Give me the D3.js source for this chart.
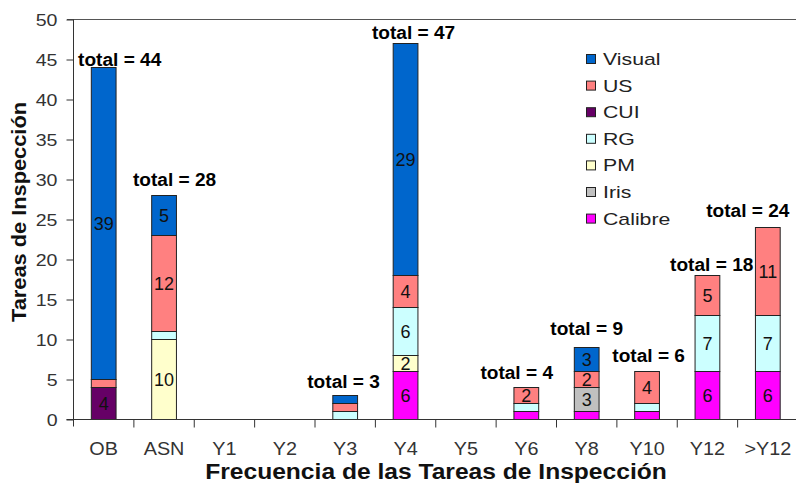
<!DOCTYPE html>
<html><head><meta charset="utf-8">
<script src="https://cdn.jsdelivr.net/npm/d3@7"></script>
<style>
html,body{margin:0;padding:0;background:#fff;}
text{font-family:"Liberation Sans",Arial,sans-serif;}
</style></head>
<body><svg id="c" width="796" height="483"></svg>
<script>
// ---- data ----
const categories = ["OB","ASN","Y1","Y2","Y3","Y4","Y5","Y6","Y8","Y10","Y12",">Y12"];
const calibre = [0,0,0,0,0,6,0,1,1,1,6,6];
const iris    = [0,0,0,0,0,0,0,0,3,0,0,0];
const pm      = [0,10,0,0,0,2,0,0,0,0,0,0];
const rg      = [0,1,0,0,1,6,0,1,0,1,7,7];
const cui     = [4,0,0,0,0,0,0,0,0,0,0,0];
const us      = [1,12,0,0,1,4,0,2,2,4,5,11];
const visual  = [39,5,0,0,1,29,0,0,3,0,0,0];
const yTicks  = [0,5,10,15,20,25,30,35,40,45,50];
const seriesNames = ["Calibre","Iris","PM","RG","CUI","US","Visual"]; // stack order, bottom up
const legendOrder = ["Visual","US","CUI","RG","PM","Iris","Calibre"];
// layout of the "total = n" annotations (pixel offsets from the bar centre / top)
const totalDx  = [16,10.5,0,0,-1.6,8,0,-9.6,0,1.6,4.3,-20];
const totalGap = [1.5,10,0,0,7.5,5,0,8.5,12.5,10,4.5,11];

const colors = {Visual:"#0066CC",US:"#FF8080",CUI:"#660066",RG:"#CCFFFF",PM:"#FFFFCC",Iris:"#C0C0C0",Calibre:"#FF00FF"};
const seriesData = {Calibre:calibre,Iris:iris,PM:pm,RG:rg,CUI:cui,US:us,Visual:visual};

const rows = categories.map((c,i)=>{const r={cat:c};seriesNames.forEach(s=>r[s]=seriesData[s][i]);return r;});
const totals = rows.map(r=>seriesNames.reduce((a,s)=>a+r[s],0));

const svg = d3.select("#c");
const x0 = 73.5, x1 = 798, yTop = 19.5, yBot = 419.5;
const x = d3.scaleBand().domain(categories).range([x0,x1]).paddingInner(0.59).paddingOuter(0.295);
const y = d3.scaleLinear().domain([0,50]).range([yBot,yTop]);

function stretch(sel,k){sel.each(function(){const w=this.getComputedTextLength();if(w>0){d3.select(this).attr("textLength",w*k).attr("lengthAdjust","spacingAndGlyphs");}});}

// top line at 50
svg.append("line").attr("x1",67).attr("x2",796).attr("y1",y(50)).attr("y2",y(50)).attr("stroke","#555").attr("stroke-width",1);

// stacked bars
const stack = d3.stack().keys(seriesNames)(rows);
const g = svg.append("g");
stack.forEach(layer=>{
  g.selectAll(null).data(layer.filter(d=>d[1]-d[0]>0)).enter().append("rect")
    .attr("x",d=>x(d.data.cat)).attr("width",x.bandwidth())
    .attr("y",d=>y(d[1])).attr("height",d=>y(d[0])-y(d[1]))
    .attr("fill",colors[layer.key]).attr("stroke","#222").attr("stroke-width",1);
});
// segment labels
stack.forEach(layer=>{
  g.selectAll(null).data(layer.filter(d=>d[1]-d[0]>=2)).enter().append("text")
    .attr("x",d=>x(d.data.cat)+x.bandwidth()/2).attr("y",d=>y((d[0]+d[1])/2)+6.5)
    .attr("text-anchor","middle").attr("font-size",18).attr("fill","#111")
    .text(d=>d[1]-d[0]);
});
// total labels
const tl = svg.selectAll(".tot").data(rows.filter((r,i)=>totals[i]>0)).enter().append("text")
  .attr("x",r=>{const i=categories.indexOf(r.cat);return x(r.cat)+x.bandwidth()/2+totalDx[i];})
  .attr("y",r=>{const i=categories.indexOf(r.cat);return y(totals[i])-totalGap[i];})
  .attr("text-anchor","middle").attr("font-size",18).attr("font-weight","bold").attr("fill","#000")
  .text(r=>"total = "+totals[categories.indexOf(r.cat)]);
stretch(tl,1.06);

// y axis
const yAxis = svg.append("g").attr("transform",`translate(${x0},0)`)
  .call(d3.axisLeft(y).tickValues(yTicks).tickSize(7).tickPadding(9));
yAxis.select(".domain").remove();
yAxis.selectAll(".tick line").attr("stroke","#333");
const ytl = yAxis.selectAll(".tick text").attr("font-size",17).attr("fill","#333").attr("font-family","Liberation Sans, Arial, sans-serif").attr("dy","0.36em");
stretch(ytl,1.15);
svg.append("line").attr("x1",x0).attr("x2",x0).attr("y1",yTop).attr("y2",yBot+7).attr("stroke","#333");

// x axis
svg.append("line").attr("x1",x0-7).attr("x2",x1).attr("y1",yBot).attr("y2",yBot).attr("stroke","#333");
const step = x.step();
const bounds = categories.map(c=>x(c)+x.bandwidth()/2+step/2);
svg.selectAll(".xt").data(bounds).enter().append("line")
  .attr("x1",d=>d).attr("x2",d=>d).attr("y1",yBot).attr("y2",yBot+8).attr("stroke","#333");
const xl = svg.selectAll(".xl").data(categories).enter().append("text")
  .attr("x",c=>x(c)+x.bandwidth()/2).attr("y",455)
  .attr("text-anchor","middle").attr("font-size",18).attr("fill","#333").text(c=>c);
stretch(xl,1.1);

// axis titles
const xt = svg.append("text").attr("x",436).attr("y",479).attr("text-anchor","middle")
  .attr("font-size",22).attr("font-weight","bold").attr("fill","#111").text("Frecuencia de las Tareas de Inspección");
stretch(xt,1.118);
const yt = svg.append("text").attr("transform","translate(26,212) rotate(-90)").attr("text-anchor","middle")
  .attr("font-size",20).attr("font-weight","bold").attr("fill","#111").text("Tareas de Inspección");
stretch(yt,1.09);

// legend
const lg = svg.append("g");
legendOrder.forEach((s,i)=>{
  const cy = 59 + i*26.6;
  lg.append("rect").attr("x",586.5).attr("y",cy-4.5).attr("width",9).attr("height",9)
    .attr("fill",colors[s]).attr("stroke","#222").attr("stroke-width",1);
  const t = lg.append("text").attr("x",603).attr("y",cy+6).attr("font-size",17).attr("fill","#222").text(s);
  stretch(t,1.25);
});
</script></body></html>
